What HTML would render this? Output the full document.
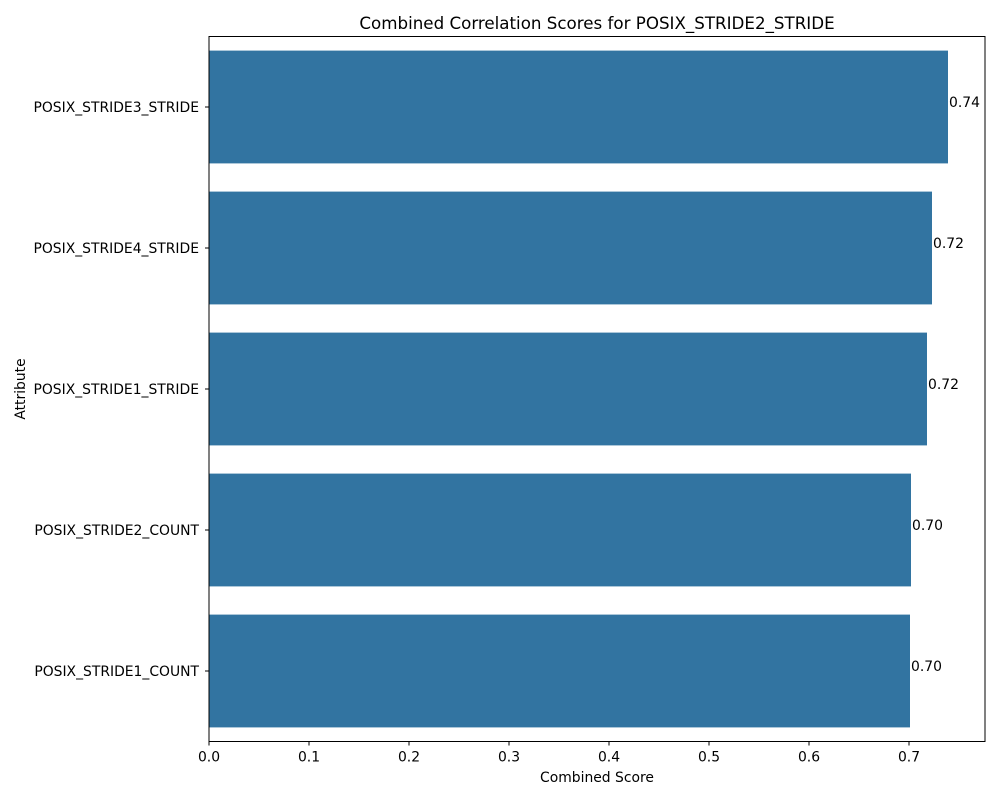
<!DOCTYPE html>
<html><head><meta charset="utf-8"><style>
body{margin:0;background:#fff;font-family:"DejaVu Sans","Liberation Sans",sans-serif}
text{font-family:"DejaVu Sans","Liberation Sans",sans-serif}
</style></head><body>
<svg id="chart" width="1000" height="800" xmlns="http://www.w3.org/2000/svg"></svg>
<script>
const categories=["POSIX_STRIDE3_STRIDE","POSIX_STRIDE4_STRIDE","POSIX_STRIDE1_STRIDE","POSIX_STRIDE2_COUNT","POSIX_STRIDE1_COUNT"];
const scores=[0.739,0.723,0.718,0.702,0.701];
const valueLabels=["0.74","0.72","0.72","0.70","0.70"];
const xTicks=[0,0.1,0.2,0.3,0.4,0.5,0.6,0.7];
const xTickLabels=["0.0","0.1","0.2","0.3","0.4","0.5","0.6","0.7"];
const xMax=0.776;

const svg=document.getElementById('chart');
const NS='http://www.w3.org/2000/svg';
const L=209,R=985,T=36.5,B=741.5;
const FS=13.9;
const x=v=>L+(v/xMax)*(R-L);
const band=(B-T)/categories.length;
const yc=i=>T+band*(i+0.5);
function el(tag,attrs,txt){const e=document.createElementNS(NS,tag);for(const k in attrs)e.setAttribute(k,attrs[k]);if(txt!==undefined)e.textContent=txt;svg.appendChild(e);return e;}

const title=el('text',{x:597,y:29,'text-anchor':'middle','font-size':16.7,fill:'#000'},'Combined Correlation Scores for POSIX_STRIDE2_STRIDE');



categories.forEach((c,i)=>{
  const h=band*0.8;
  const r=el('rect',{x:x(0),y:yc(i)-h/2,width:x(scores[i])-x(0),height:h,fill:'#3274a1'});
  
  
  const v=el('text',{x:x(scores[i])+1,y:yc(i)-4,'dominant-baseline':'middle','font-size':FS,fill:'#000'},valueLabels[i]);
  
  
  const tk=el('line',{x1:L-4,x2:L,y1:yc(i),y2:yc(i),stroke:'#000','stroke-width':1});
  
  
  const t=el('text',{x:L-10,y:yc(i)+1,'text-anchor':'end','dominant-baseline':'middle','font-size':FS,fill:'#000'},c);
  
  
});

xTicks.forEach((v,i)=>{
  const tk=el('line',{x1:x(v),x2:x(v),y1:B,y2:B+4,stroke:'#000','stroke-width':1});
  
  
  const t=el('text',{x:x(v),y:B+20,'text-anchor':'middle','font-size':FS,fill:'#000'},xTickLabels[i]);
  
  
});

const frame=el('rect',{x:L,y:T,width:R-L,height:B-T,fill:'none',stroke:'#000','stroke-width':1});



const xt=el('text',{x:(L+R)/2,y:782,'text-anchor':'middle','font-size':FS,fill:'#000'},'Combined Score');


const yt=el('text',{x:25,y:389,'text-anchor':'middle','font-size':FS,fill:'#000',transform:'rotate(-90 25 389)'},'Attribute');


</script>
</body></html>
